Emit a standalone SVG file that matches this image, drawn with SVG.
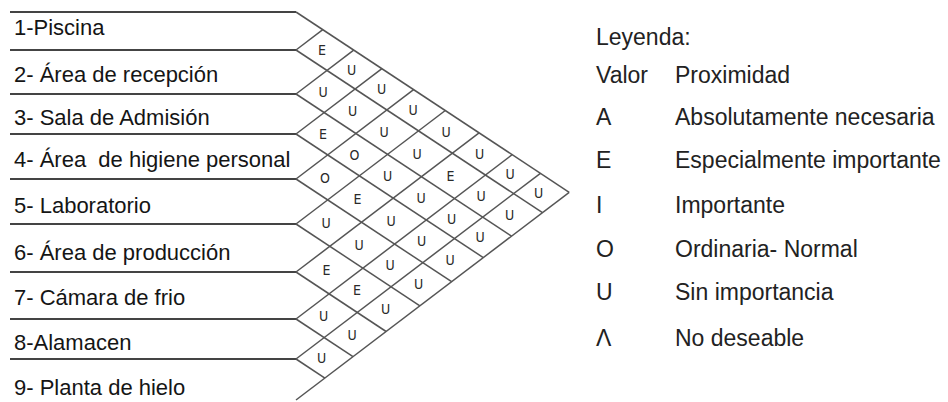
<svg xmlns="http://www.w3.org/2000/svg" width="948" height="402" viewBox="0 0 948 402">
<style>
.row{fill:none;stroke:#444;stroke-width:2}
.lat{fill:none;stroke:#555;stroke-width:1.5}
.lbl{font-family:"Liberation Sans",Arial,sans-serif;font-size:22px;fill:#151515}
.r{font-family:"Liberation Sans Narrow","DejaVu Sans Condensed","Liberation Sans",sans-serif;font-size:14px;fill:#2a2a2a;text-anchor:middle}
.lg{font-family:"Liberation Sans",Arial,sans-serif;font-size:23px;fill:#222}
</style>
<rect width="948" height="402" fill="#fff"/>
<g id="rows">
<g id="row-1"><line class="row" x1="10" y1="12" x2="296" y2="12"/><text class="lbl" x="14" y="35">1-Piscina</text></g>
<g id="row-2"><line class="row" x1="10" y1="50" x2="296" y2="50"/><text class="lbl" x="14" y="82">2- Área de recepción</text></g>
<g id="row-3"><line class="row" x1="10" y1="94" x2="296" y2="94"/><text class="lbl" x="14" y="125">3- Sala de Admisión</text></g>
<g id="row-4"><line class="row" x1="10" y1="134" x2="296" y2="134"/><text class="lbl" x="14" y="167" xml:space="preserve">4- Área  de higiene personal</text></g>
<g id="row-5"><line class="row" x1="10" y1="179" x2="296" y2="179"/><text class="lbl" x="14" y="213">5- Laboratorio</text></g>
<g id="row-6"><line class="row" x1="10" y1="224" x2="296" y2="224"/><text class="lbl" x="14" y="260">6- Área de producción</text></g>
<g id="row-7"><line class="row" x1="10" y1="272" x2="296" y2="272"/><text class="lbl" x="14" y="305">7- Cámara de frio</text></g>
<g id="row-8"><line class="row" x1="10" y1="319" x2="296" y2="319"/><text class="lbl" x="14" y="350">8-Alamacen</text></g>
<g id="row-9"><line class="row" x1="10" y1="359" x2="296" y2="359"/><text class="lbl" x="14" y="395">9- Planta de hielo</text></g>
</g>
<g id="connectors">
<line class="lat" x1="296" y1="12" x2="569.2" y2="192.3"/>
<line class="lat" x1="296" y1="50" x2="542.5" y2="212.7"/>
<line class="lat" x1="296" y1="94" x2="511.5" y2="236.2"/>
<line class="lat" x1="296" y1="134" x2="483.3" y2="257.6"/>
<line class="lat" x1="296" y1="179" x2="451.6" y2="281.7"/>
<line class="lat" x1="296" y1="224" x2="419.9" y2="305.8"/>
<line class="lat" x1="296" y1="272" x2="386.1" y2="331.5"/>
<line class="lat" x1="296" y1="319" x2="353" y2="356.6"/>
<line class="lat" x1="296" y1="359" x2="324.9" y2="378.1"/>
<line class="lat" x1="296" y1="50" x2="322.8" y2="29.7"/>
<line class="lat" x1="296" y1="94" x2="353.7" y2="50.1"/>
<line class="lat" x1="296" y1="134" x2="381.9" y2="68.7"/>
<line class="lat" x1="296" y1="179" x2="413.6" y2="89.6"/>
<line class="lat" x1="296" y1="224" x2="445.3" y2="110.5"/>
<line class="lat" x1="296" y1="272" x2="479.1" y2="132.8"/>
<line class="lat" x1="296" y1="319" x2="512.2" y2="154.7"/>
<line class="lat" x1="296" y1="359" x2="540.4" y2="173.3"/>
<line class="lat" x1="296" y1="400" x2="569.2" y2="192.3"/>
</g>
<g id="ratings">
<text class="r" x="322" y="55">E</text>
<text class="r" x="323" y="96.5">U</text>
<text class="r" x="323" y="138.5">E</text>
<text class="r" x="325" y="182.5">O</text>
<text class="r" x="326" y="228">U</text>
<text class="r" x="326.5" y="275">E</text>
<text class="r" x="323.5" y="320.5">U</text>
<text class="r" x="321.5" y="362.5">U</text>
<text class="r" x="351.5" y="74.5">U</text>
<text class="r" x="352.5" y="116">U</text>
<text class="r" x="354.5" y="159.5">O</text>
<text class="r" x="357.5" y="204">E</text>
<text class="r" x="359" y="250">U</text>
<text class="r" x="357" y="295">E</text>
<text class="r" x="352" y="339.5">U</text>
<text class="r" x="381.5" y="94">U</text>
<text class="r" x="384" y="137">U</text>
<text class="r" x="387.5" y="181">U</text>
<text class="r" x="391" y="226">U</text>
<text class="r" x="390" y="270">U</text>
<text class="r" x="385.5" y="314">U</text>
<text class="r" x="413" y="115">U</text>
<text class="r" x="417" y="158.5">U</text>
<text class="r" x="421" y="203">U</text>
<text class="r" x="421.5" y="246">U</text>
<text class="r" x="418.5" y="289">U</text>
<text class="r" x="446" y="136.5">U</text>
<text class="r" x="450.5" y="180.5">E</text>
<text class="r" x="451.5" y="223.5">U</text>
<text class="r" x="450" y="265">U</text>
<text class="r" x="479.5" y="158.5">U</text>
<text class="r" x="481" y="201">U</text>
<text class="r" x="480" y="242">U</text>
<text class="r" x="510" y="179">U</text>
<text class="r" x="509.5" y="219.5">U</text>
<text class="r" x="538.5" y="198">U</text>
</g>
<g id="legend">
<text class="lg" x="596" y="45">Leyenda:</text>
<text class="lg" x="596" y="83">Valor</text><text class="lg" x="675" y="83">Proximidad</text>
<text class="lg" x="596" y="125">A</text><text class="lg" x="675" y="125">Absolutamente necesaria</text>
<text class="lg" x="596" y="168">E</text><text class="lg" x="675" y="168">Especialmente importante</text>
<text class="lg" x="596" y="213">I</text><text class="lg" x="675" y="213">Importante</text>
<text class="lg" x="596" y="257">O</text><text class="lg" x="675" y="257">Ordinaria- Normal</text>
<text class="lg" x="596" y="300">U</text><text class="lg" x="675" y="300">Sin importancia</text>
<text class="lg" x="596" y="346">Λ</text><text class="lg" x="675" y="346">No deseable</text>
</g>
</svg>
